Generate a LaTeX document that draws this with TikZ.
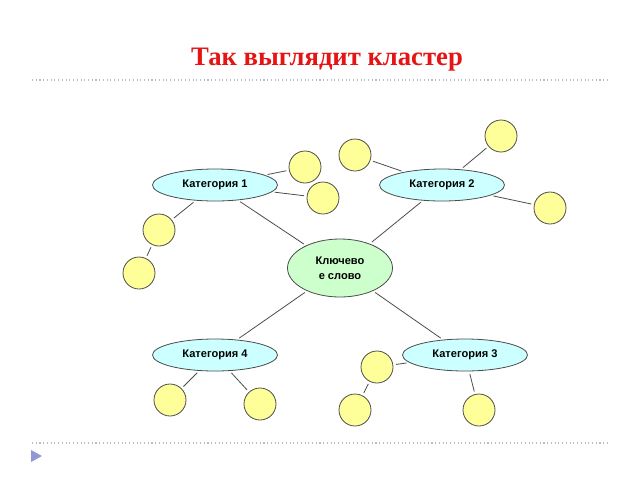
\documentclass[tikz,border=0pt]{standalone}
\usepackage{fontspec}
\setmainfont{Liberation Sans}
\newfontfamily\titlefont{Liberation Serif}
\usetikzlibrary{shapes.geometric,positioning}
\definecolor{catfill}{RGB}{204,255,255}
\definecolor{keyfill}{RGB}{204,255,204}
\definecolor{dotfill}{RGB}{255,255,153}
\definecolor{titlered}{RGB}{230,20,20}
\definecolor{rulegrey}{RGB}{180,190,200}
\tikzset{
    category/.style={ellipse, draw=black!70, semithick, fill=catfill, minimum width=93.75pt,
        minimum height=24pt, inner sep=0pt, font=\bfseries\fontsize{8.3}{10}\selectfont},
    keyword/.style={ellipse, draw=black!70, semithick, fill=keyfill, minimum width=78.75pt,
        minimum height=43.5pt, inner sep=0pt, align=center, font=\bfseries\fontsize{8.3}{11}\selectfont},
    blob/.style={circle, draw=black!70, semithick, fill=dotfill, minimum size=24pt, inner sep=0pt},
    link/.style={draw=black!70, semithick, shorten <=2pt, shorten >=2pt}
}
\begin{document}
\begin{tikzpicture}[x=0.75pt,y=-0.75pt]
    \useasboundingbox (0,0) rectangle (640,480);

    \node[font=\titlefont\bfseries\fontsize{20}{24}\selectfont, text=titlered] (title) at (327,60) {Так выглядит кластер};
    \draw[rulegrey, dotted, thick] (32,80) -- (607,80);
    \draw[rulegrey, dotted, thick] (32,443) -- (607,443);
    \fill[rulegrey!80!blue] (31,450) -- (42,456) -- (31,462) -- cycle;

    % main nodes
    \node[keyword] (key) at (340,268) {Ключево\\е слово};
    \node[category] (cat1) at (215,185) {Категория 1};
    \node[category] (cat2) at (442,185) {Категория 2};
    \node[category] (cat4) at (215,355) {Категория 4};
    \node[category] (cat3) at (465,355) {Категория 3};

    % circles
    \node[blob] (a1) at (305,167) {};
    \node[blob] (a2) at (323,198) {};
    \node[blob] (a3) at (159,230) {};
    \node[blob] (a4) at (139,273) {};
    \node[blob] (b1) at (355,155) {};
    \node[blob] (b2) at (501,136) {};
    \node[blob] (b3) at (550,208) {};
    \node[blob] (c1) at (377,367) {};
    \node[blob] (c2) at (355,410) {};
    \node[blob] (c3) at (479,410) {};
    \node[blob] (d1) at (170,400) {};
    \node[blob] (d2) at (260,404) {};

    % connectors
    \draw[link] (key) -- (cat1);
    \draw[link] (key) -- (cat2);
    \draw[link] (key) -- (cat3);
    \draw[link] (key) -- (cat4);
    \draw[link] (cat1) -- (a1);
    \draw[link] (cat1) -- (a2);
    \draw[link] (cat1) -- (a3);
    \draw[link] (a3) -- (a4);
    \draw[link] (cat2) -- (b1);
    \draw[link] (cat2) -- (b2);
    \draw[link] (cat2) -- (b3);
    \draw[link] (cat3) -- (c1);
    \draw[link] (c1) -- (c2);
    \draw[link] (cat3) -- (c3);
    \draw[link] (cat4) -- (d1);
    \draw[link] (cat4) -- (d2);
\end{tikzpicture}
\end{document}
